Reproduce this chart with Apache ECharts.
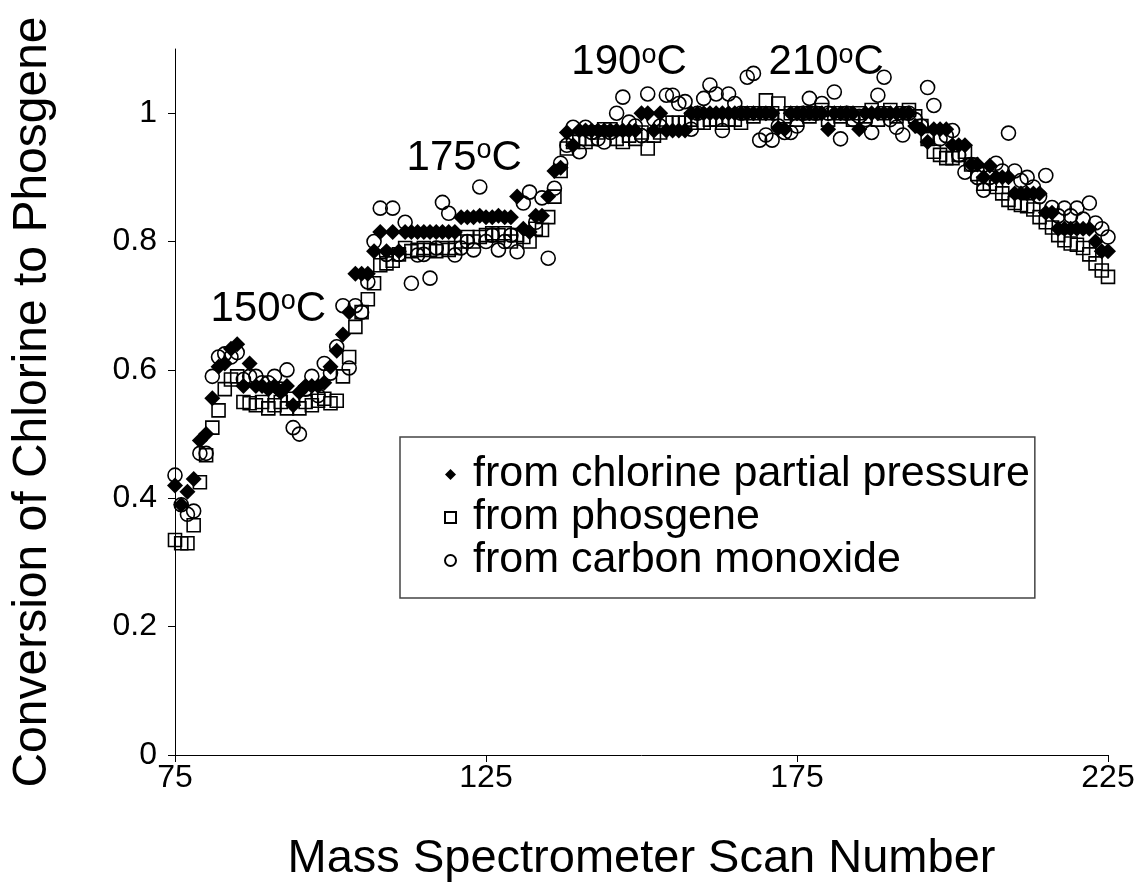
<!DOCTYPE html>
<html>
<head>
<meta charset="utf-8">
<script src="https://cdn.jsdelivr.net/npm/echarts@6/dist/echarts.min.js"></script>
<style>
html,body{margin:0;padding:0;background:#fff;}
#chart{width:1138px;height:893px;}
</style>
</head>
<body>
<div id="chart"></div>
<script>
// Scan numbers 75..225
var scanStart = 75;
var chlorine = [
0.42,0.39,0.41,0.43,0.49,0.50,0.556,0.605,0.61,0.633,
0.64,0.575,0.61,0.575,0.575,0.57,0.575,0.565,0.575,0.545,
0.565,0.575,0.575,0.575,0.58,0.605,0.63,0.655,0.69,0.75,
0.75,0.75,0.785,0.815,0.785,0.815,0.785,0.815,0.815,0.815,
0.815,0.815,0.815,0.815,0.815,0.815,0.838,0.838,0.838,0.84,
0.838,0.838,0.84,0.838,0.838,0.87,0.82,0.815,0.84,0.84,
0.87,0.91,0.915,0.97,0.95,
0.973,0.973,0.973,0.973,0.973,0.973,0.973,0.973,0.973,0.973,
1.0,1.0,0.973,1.0,0.973,0.973,0.973,0.973,
1.0,1.0,1.0,1.0,1.0,1.0,1.0,1.0,1.0,1.0,1.0,1.0,1.0,1.0,
0.977,0.975,
1.0,1.0,1.0,1.0,1.0,1.0,
0.975,
1.0,1.0,1.0,1.0,
0.975,
1.0,1.0,1.0,1.0,1.0,1.0,1.0,1.0,
0.98,0.975,0.955,0.975,0.975,0.975,0.95,0.95,0.95,0.92,
0.92,0.9,0.918,0.9,0.9,0.9,0.875,0.875,0.875,0.875,
0.875,0.845,0.845,0.82,0.82,0.82,0.82,0.82,0.82,0.8,
0.785,0.785
];
var phosgene = [
0.335,0.33,0.33,0.358,0.425,0.467,0.51,0.537,0.57,0.585,
0.59,0.55,0.548,0.545,0.55,0.54,0.545,0.55,0.54,0.555,
0.54,0.55,0.545,0.552,0.555,0.548,0.552,0.59,0.62,0.667,
0.69,0.71,0.735,0.763,0.766,0.77,0.78,0.79,0.785,0.787,
0.79,0.787,0.785,0.79,0.787,0.79,0.8,0.807,0.8,0.807,
0.81,0.813,0.81,0.813,0.8,0.81,0.807,0.8,0.82,0.818,
0.838,0.87,0.91,0.945,0.955,0.96,0.955,0.96,0.97,0.975,
0.975,0.96,0.955,0.965,0.96,0.97,0.945,0.965,0.97,0.985,
0.985,0.985,0.985,0.99,0.985,0.985,0.99,0.99,0.985,0.99,
0.99,0.985,1.0,0.995,1.0,1.02,1.0,1.015,0.995,1.0,
0.99,1.0,0.995,1.0,1.005,0.99,1.0,0.995,1.0,0.99,
1.0,0.995,1.005,0.99,1.0,1.005,0.995,1.0,1.005,0.995,
0.98,0.96,0.94,0.935,0.93,0.93,0.935,0.94,0.92,0.905,
0.89,0.89,0.885,0.875,0.865,0.86,0.857,0.855,0.85,0.838,
0.83,0.822,0.81,0.802,0.797,0.795,0.79,0.78,0.766,0.755,
0.745
];
var carbonMonoxide = [
0.436,0.39,0.375,0.38,0.47,0.47,0.59,0.62,0.625,0.62,
0.627,0.585,0.59,0.59,0.58,0.58,0.59,0.57,0.6,0.51,
0.5,0.57,0.59,0.56,0.61,0.595,0.636,0.70,0.603,0.70,
0.69,0.737,0.80,0.852,0.78,0.852,0.78,0.83,0.735,0.779,
0.78,0.743,0.79,0.861,0.844,0.779,0.79,0.80,0.787,0.885,
0.80,0.81,0.787,0.80,0.81,0.784,0.86,0.877,0.83,0.868,
0.774,0.883,0.922,0.95,0.978,0.94,0.978,0.97,0.96,0.955,
0.97,1.0,1.025,0.986,0.98,0.965,1.03,0.99,0.98,1.028,
1.028,1.015,1.018,0.975,1.0,1.023,1.044,1.03,0.973,1.03,
1.015,1.0,1.056,1.062,0.958,0.966,0.958,0.98,0.97,0.97,
0.98,1.0,1.023,1.0,1.015,1.0,1.033,0.96,1.0,0.99,
0.995,0.99,0.97,1.028,1.056,0.99,0.978,0.966,1.0,0.99,
0.98,1.04,1.012,0.96,0.965,0.973,0.935,0.908,0.92,0.9,
0.88,0.9,0.922,0.91,0.969,0.91,0.895,0.9,0.885,0.87,
0.903,0.853,0.84,0.852,0.84,0.852,0.835,0.86,0.829,0.82,
0.807
];
var yTicks = [0, 0.2, 0.4, 0.6, 0.8, 1];
var seriesNames = ['from chlorine partial pressure', 'from phosgene', 'from carbon monoxide'];
var annoText = ['150', '175', '190', '210'];
var annoX = [90, 121.5, 148, 179.7];
var annoY = [0.662, 0.897, 1.046, 1.046];

function pairs(arr) {
  return arr.map(function (v, i) { return [scanStart + i, v]; });
}

var FONT = '"Liberation Sans", Arial, sans-serif';
var chart = echarts.init(document.getElementById('chart'));
var hollow = { color: 'rgba(0,0,0,0)', borderColor: '#000', borderWidth: 1.6, opacity: 1 };

chart.setOption({
  animation: false,
  backgroundColor: '#fff',
  textStyle: { fontFamily: FONT, color: '#000' },
  grid: { left: 175, right: 30, top: 49, bottom: 138, containLabel: false },
  xAxis: {
    type: 'value', min: 75, max: 225, interval: 50,
    name: 'Mass Spectrometer Scan Number', nameLocation: 'middle', nameGap: 81,
    nameTextStyle: { fontSize: 47, fontFamily: FONT, color: '#000' },
    axisLine: { lineStyle: { color: '#000', width: 1 } },
    axisTick: { show: true, inside: false, length: 7, lineStyle: { color: '#000' } },
    axisLabel: { fontSize: 32, fontFamily: FONT, color: '#000', margin: 7 },
    splitLine: { show: false }
  },
  yAxis: {
    type: 'value', min: 0, max: 1.1,
    name: 'Conversion of Chlorine to Phosgene', nameLocation: 'middle', nameGap: 118, nameRotate: 90,
    nameTextStyle: { fontSize: 48, fontFamily: FONT, color: '#000' },
    axisLine: { show: true, lineStyle: { color: '#000', width: 1 } },
    axisTick: { show: true, inside: false, length: 7, lineStyle: { color: '#000' }, customValues: yTicks },
    axisLabel: { fontSize: 32, fontFamily: FONT, color: '#000', margin: 18, customValues: yTicks,
      formatter: function (v) { return String(Math.round(v * 10) / 10); } },
    splitLine: { show: false }
  },
  legend: {
    orient: 'vertical', left: 400, top: 437,
    padding: [16, 5, 16, 44],
    borderColor: '#444', borderWidth: 1.5,
    itemWidth: 11, itemHeight: 11, itemGap: 0,
    textStyle: { fontSize: 43, fontFamily: FONT, color: '#000', lineHeight: 40, padding: [0, 0, 0, 12] },
    data: [
      { name: seriesNames[0], icon: 'diamond' },
      { name: seriesNames[1], icon: 'rect' },
      { name: seriesNames[2], icon: 'circle' }
    ]
  },
  series: [
    { name: seriesNames[0], type: 'scatter', symbol: 'diamond', symbolSize: 16,
      itemStyle: { color: '#000', opacity: 1 }, data: pairs(chlorine) },
    { name: seriesNames[1], type: 'scatter', symbol: 'rect', symbolSize: 13,
      itemStyle: hollow, data: pairs(phosgene) },
    { name: seriesNames[2], type: 'scatter', symbol: 'circle', symbolSize: 14,
      itemStyle: hollow, data: pairs(carbonMonoxide) }
  ]
});

var graphics = annoText.map(function (t, i) {
  var p = chart.convertToPixel({ gridIndex: 0 }, [annoX[i], annoY[i]]);
  return {
    type: 'text', x: p[0], y: p[1],
    style: {
      text: '{a|' + t + '}{b|o}{a|C}',
      align: 'center', verticalAlign: 'bottom',
      rich: {
        a: { fontSize: 42, fontFamily: FONT, fill: '#000', color: '#000' },
        b: { fontSize: 27, fontFamily: FONT, fill: '#000', color: '#000', verticalAlign: 'top', padding: [0, 0, 14, 0] }
      }
    }
  };
});
chart.setOption({ graphic: graphics });
</script>
</body>
</html>
